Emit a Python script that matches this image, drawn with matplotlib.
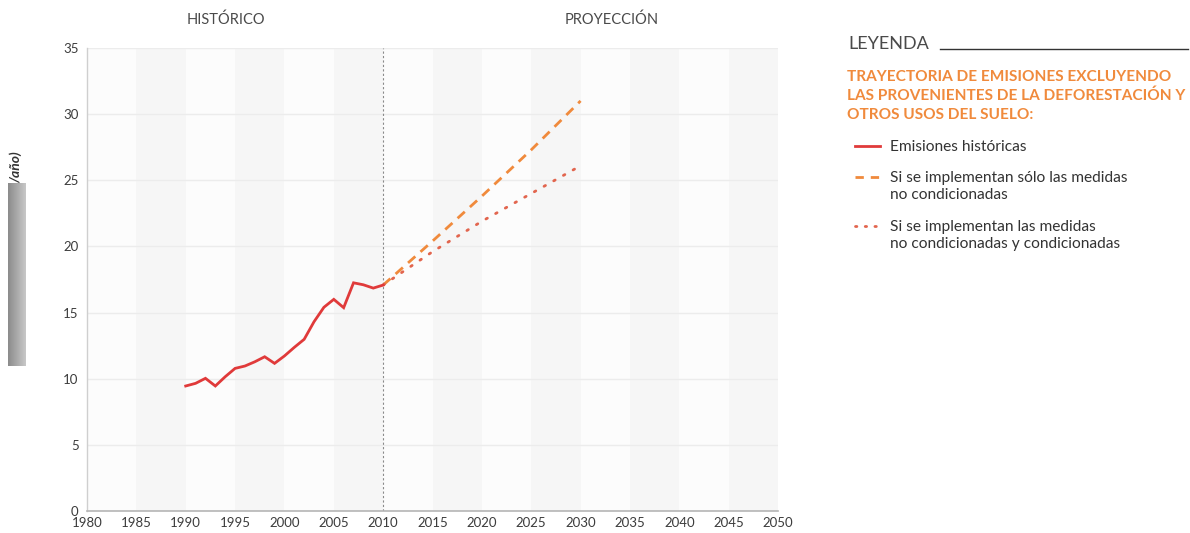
import matplotlib
matplotlib.use("Agg")
import matplotlib.pyplot as plt
import numpy as np
from matplotlib.lines import Line2D

plt.rcParams['font.family'] = ['Lato', 'DejaVu Sans']

hist_years = [1990, 1991, 1992, 1993, 1994, 1995, 1996, 1997, 1998, 1999, 2000,
              2001, 2002, 2003, 2004, 2005, 2006, 2007, 2008, 2009, 2010]
hist_values = [9.45, 9.65, 10.03, 9.45, 10.15, 10.78, 10.96, 11.28, 11.66, 11.16, 11.72,
               12.37, 12.98, 14.31, 15.40, 16.00, 15.37, 17.25, 17.10, 16.85, 17.08]

proj_years = [2010, 2015, 2020, 2025, 2030]
proj_uncond = [17.08, 20.40, 23.80, 27.30, 31.00]
proj_cond = [17.08, 19.60, 21.90, 24.00, 26.10]

x_ticks = [1980, 1985, 1990, 1995, 2000, 2005, 2010, 2015, 2020, 2025, 2030, 2035, 2040, 2045, 2050]
y_ticks = [0, 5, 10, 15, 20, 25, 30, 35]

RED = '#e03a3a'
ORANGE = '#f08a3c'
DOT = '#e2654e'
TXT = '#4a4a4a'

fig = plt.figure(figsize=(11.9, 5.33), dpi=100)
ax = fig.add_axes([87/1190, 1-511/533, (778-87)/1190, (511-48)/533])

ax.set_xlim(1980, 2050)
ax.set_ylim(0, 35)

# alternating faint bands
for i, x0 in enumerate(x_ticks[:-1]):
    col = '#fcfcfc' if i % 2 == 0 else '#f6f6f6'
    ax.axvspan(x0, x0 + 5, color=col, zorder=0, lw=0)

for y in y_ticks[1:]:
    ax.axhline(y, color='#ececec', lw=1.0, zorder=1)

ax.axvline(2010, color='#8a8a8a', lw=0.8, ls=(0, (2, 2)), zorder=2)

ax.plot(hist_years, hist_values, color=RED, lw=2.0, zorder=4, solid_joinstyle='miter')
ax.plot(proj_years, proj_uncond, color=ORANGE, lw=2.0, ls=(0, (3.5, 2.5)), zorder=3)
ax.plot(proj_years, proj_cond, color=DOT, lw=2.0, ls=(0, (0.6, 3.4)),
        dash_capstyle='round', zorder=3)

ax.set_xticks(x_ticks)
ax.set_yticks(y_ticks)
ax.tick_params(length=0, labelsize=9.5, labelcolor='#3c3c3c', pad=6)
ax.tick_params(axis='x', pad=4)
for s in ['top', 'right']:
    ax.spines[s].set_visible(False)
ax.spines['left'].set_color('#cfcfcf')
ax.spines['bottom'].set_color('#b5b5b5')
ax.spines['left'].set_linewidth(1.0)
ax.spines['bottom'].set_linewidth(1.2)

fig.text(226/1190, 1-20/533, 'HISTÓRICO', ha='center', va='center', fontsize=10.5, color=TXT)
fig.text(612/1190, 1-20/533, 'PROYECCIÓN', ha='center', va='center', fontsize=10.5, color=TXT)

# cut y label fragment and gray block
fig.text(16/1190, 1-167/533, '/año)', rotation=90, ha='center', va='center',
         fontsize=10, color='#333333', style='italic', fontweight='bold')
grad = np.linspace(0.55, 0.78, 20).reshape(1, -1)
bax = fig.add_axes([8/1190, 1-366/533, 18/1190, (366-183)/533])
bax.imshow(grad, aspect='auto', cmap='gray', vmin=0, vmax=1, extent=[0, 1, 0, 1])
bax.axis('off')

# Legend
fig.text(848/1190, 1-44/533, 'LEYENDA', ha='left', va='center', fontsize=13, color=TXT)
fig.add_artist(Line2D([940/1190, 1188/1190], [1-49/533, 1-49/533], color='#333333', lw=1.0))
fig.text(847/1190, 1-96/533,
         'TRAYECTORIA DE EMISIONES EXCLUYENDO\nLAS PROVENIENTES DE LA DEFORESTACIÓN Y\nOTROS USOS DEL SUELO:',
         ha='left', va='center', fontsize=11.1, color=ORANGE, fontweight='bold', linespacing=1.45)

entries = [
    (146, 'Emisiones históricas', dict(color=RED, lw=2.0)),
    (177, 'Si se implementan sólo las medidas\nno condicionadas', dict(color=ORANGE, lw=2.0, ls=(0, (3.0, 2.5)))),
    (226, 'Si se implementan las medidas\nno condicionadas y condicionadas', dict(color=DOT, lw=2.0, ls=(0, (0.5, 3.0)), dash_capstyle='round')),
]
for yline, label, style in entries:
    fig.add_artist(Line2D([855/1190, 880/1190], [1-yline/533, 1-yline/533], **style))
    fig.text(890/1190, 1-(yline - 6)/533, label, ha='left', va='top',
             fontsize=11.2, color='#333333', linespacing=1.28)

fig.savefig('out.png', dpi=100, facecolor='white')
